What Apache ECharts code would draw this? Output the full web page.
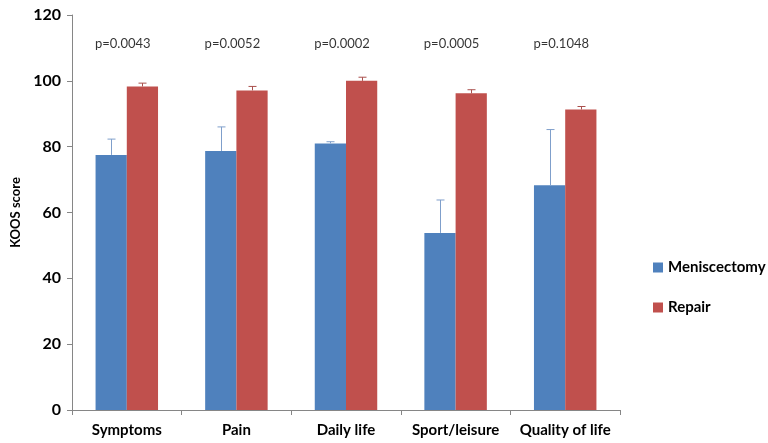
<!DOCTYPE html>
<html>
<head>
<meta charset="utf-8">
<script src="https://cdn.jsdelivr.net/npm/echarts@6/dist/echarts.min.js"></script>
<style>
  html, body { margin: 0; padding: 0; background: #fff; }
  #chart { width: 768px; height: 443px; }
</style>
</head>
<body>
<div id="chart"></div>
<script>
// data
const categories = ['Symptoms', 'Pain', 'Daily life', 'Sport/leisure', 'Quality of life'];
const meniscectomy = [77.5, 78.7, 81.0, 53.8, 68.3];
const meniscectomyErr = [4.8, 7.3, 0.5, 10.0, 16.9];
const repair = [98.3, 97.1, 100.0, 96.2, 91.3];
const repairErr = [1.0, 1.2, 1.1, 1.1, 0.9];
const pValues = ['p=0.0043', 'p=0.0052', 'p=0.0002', 'p=0.0005', 'p=0.1048'];
const yTicks = [0, 20, 40, 60, 80, 100, 120];

const blue = '#4F81BD';
const red = '#C0504D';
const catGap = 0.43;

// 误差线（只向上，带帽）
function errorSeries(name, values, errs, side, color) {
  return {
    name: name,
    type: 'custom',
    z: 5,
    silent: true,
    data: values.map((v, i) => [i, v, v + errs[i]]),
    renderItem: function (params, api) {
      const band = api.size([1, 0])[0];
      const bw = band * (1 - catGap) / 2;
      const base = api.coord([api.value(0), api.value(1)]);
      const top = api.coord([api.value(0), api.value(2)]);
      const x = Math.round(base[0] + side * bw / 2) + 0.5;
      const style = { stroke: color, lineWidth: 1 };
      return {
        type: 'group',
        children: [
          { type: 'line', shape: { x1: x, y1: base[1], x2: x, y2: top[1] }, style: style },
          { type: 'line', shape: { x1: x - 4, y1: top[1], x2: x + 4, y2: top[1] }, style: style }
        ]
      };
    }
  };
}

const chart = echarts.init(document.getElementById('chart'));
chart.setOption({
  animation: false,
  textStyle: { fontFamily: 'Lato, "Open Sans", sans-serif' },
  grid: { left: 72, right: 148, top: 15, bottom: 33 },
  legend: {
    orient: 'vertical',
    left: 648,
    top: 255,
    itemGap: 25,
    itemWidth: 10,
    itemHeight: 10,
    icon: 'rect',
    data: ['Meniscectomy', 'Repair'],
    textStyle: { fontSize: 15, fontWeight: 'bold', color: '#000' }
  },
  xAxis: {
    type: 'category',
    data: categories,
    axisLine: { lineStyle: { color: '#868686' } },
    axisTick: { show: true, length: 5, lineStyle: { color: '#868686' } },
    axisLabel: { color: '#000', fontSize: 15, fontWeight: 'bold', margin: 13, interval: 0 }
  },
  yAxis: {
    type: 'value',
    min: yTicks[0],
    max: yTicks[yTicks.length - 1],
    interval: 20,
    name: 'KOOS score',
    nameLocation: 'middle',
    nameGap: 50,
    nameTextStyle: { color: '#000', fontSize: 13, fontWeight: 'bold' },
    axisLine: { show: true, lineStyle: { color: '#868686' } },
    axisTick: { show: true, length: 5, lineStyle: { color: '#868686' } },
    axisLabel: { color: '#000', fontSize: 16, fontWeight: 'bold', margin: 11 },
    splitLine: { show: false }
  },
  series: [
    {
      name: 'Meniscectomy',
      type: 'bar',
      data: meniscectomy,
      barGap: '0%',
      barCategoryGap: (catGap * 100) + '%',
      itemStyle: { color: blue }
    },
    {
      name: 'Repair',
      type: 'bar',
      data: repair,
      itemStyle: { color: red }
    },
    errorSeries('Meniscectomy', meniscectomy, meniscectomyErr, -1, '#7F9FCB'),
    errorSeries('Repair', repair, repairErr, 1, '#A9504D'),
    {
      name: 'p',
      type: 'scatter',
      symbolSize: 0,
      silent: true,
      data: pValues.map((p, i) => [i, 111.2]),
      label: {
        show: true,
        position: 'inside',
        offset: [-4, 0],
        formatter: (d) => pValues[d.dataIndex],
        color: '#000',
        fontSize: 13
      }
    }
  ]
});
</script>
</body>
</html>
